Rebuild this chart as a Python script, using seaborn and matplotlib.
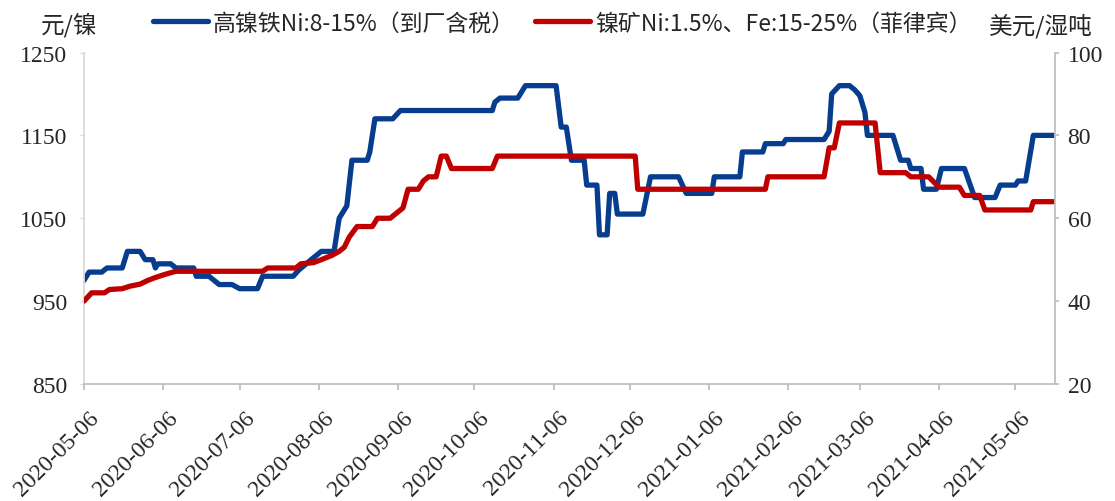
import pandas as pd
import matplotlib.pyplot as plt
import seaborn as sns
from matplotlib.lines import Line2D
from matplotlib.transforms import ScaledTranslation

# 高镍铁 Ni:8-15%（到厂含税）, 元/镍, left axis
nfe_dates = ['2020-05-06', '2020-05-08', '2020-05-13', '2020-05-15', '2020-05-21', '2020-05-23',
             '2020-05-28', '2020-05-30', '2020-06-02', '2020-06-03', '2020-06-04', '2020-06-09',
             '2020-06-11', '2020-06-18', '2020-06-19', '2020-06-24', '2020-06-28', '2020-07-03',
             '2020-07-06', '2020-07-13', '2020-07-15', '2020-07-27', '2020-07-29', '2020-08-03',
             '2020-08-07', '2020-08-12', '2020-08-14', '2020-08-17', '2020-08-19', '2020-08-25',
             '2020-08-26', '2020-08-28', '2020-09-04', '2020-09-07', '2020-10-13', '2020-10-14',
             '2020-10-16', '2020-10-23', '2020-10-26', '2020-11-07', '2020-11-09', '2020-11-11',
             '2020-11-13', '2020-11-18', '2020-11-19', '2020-11-23', '2020-11-24', '2020-11-27',
             '2020-11-28', '2020-11-30', '2020-12-01', '2020-12-11', '2020-12-14', '2020-12-25',
             '2020-12-28', '2021-01-07', '2021-01-08', '2021-01-18', '2021-01-19', '2021-01-27',
             '2021-01-28', '2021-02-04', '2021-02-05', '2021-02-20', '2021-02-22', '2021-02-23',
             '2021-02-26', '2021-03-02', '2021-03-04', '2021-03-06', '2021-03-08', '2021-03-09',
             '2021-03-19', '2021-03-22', '2021-03-25', '2021-03-26', '2021-03-30', '2021-03-31',
             '2021-04-05', '2021-04-07', '2021-04-16', '2021-04-20', '2021-04-28', '2021-04-30',
             '2021-05-06', '2021-05-07', '2021-05-10', '2021-05-13', '2021-05-21']
nfe_price = [975, 985, 985, 990, 990, 1010,
             1010, 1000, 1000, 990, 995, 995,
             990, 990, 980, 980, 970, 970,
             965, 965, 980, 980, 987, 1000,
             1010, 1010, 1050, 1065, 1120, 1120,
             1130, 1170, 1170, 1180, 1180, 1190,
             1195, 1195, 1210, 1210, 1160, 1160,
             1120, 1120, 1090, 1090, 1030, 1030,
             1080, 1080, 1055, 1055, 1100, 1100,
             1080, 1080, 1100, 1100, 1130, 1130,
             1140, 1140, 1145, 1145, 1155, 1200,
             1210, 1210, 1205, 1198, 1178, 1150,
             1150, 1120, 1120, 1110, 1110, 1085,
             1085, 1110, 1110, 1075, 1075, 1090,
             1090, 1095, 1095, 1150, 1150]

# 镍矿Ni:1.5%、Fe:15-25%（菲律宾）, 美元/湿吨, right axis
ore_dates = ['2020-05-06', '2020-05-09', '2020-05-14', '2020-05-16', '2020-05-21', '2020-05-24',
             '2020-05-28', '2020-05-31', '2020-06-03', '2020-06-07', '2020-06-11', '2020-07-15',
             '2020-07-17', '2020-07-28', '2020-07-30', '2020-08-04', '2020-08-07', '2020-08-11',
             '2020-08-14', '2020-08-16', '2020-08-18', '2020-08-21', '2020-08-27', '2020-08-29',
             '2020-09-03', '2020-09-05', '2020-09-08', '2020-09-10', '2020-09-14', '2020-09-16',
             '2020-09-18', '2020-09-21', '2020-09-23', '2020-09-25', '2020-09-27', '2020-10-13',
             '2020-10-15', '2020-12-08', '2020-12-09', '2021-01-28', '2021-01-29', '2021-02-20',
             '2021-02-22', '2021-02-24', '2021-02-26', '2021-03-12', '2021-03-14', '2021-03-24',
             '2021-03-26', '2021-04-02', '2021-04-06', '2021-04-14', '2021-04-16', '2021-04-22',
             '2021-04-24', '2021-05-12', '2021-05-13', '2021-05-21']
ore_price = [40, 42, 42, 42.8, 43, 43.6,
             44.1, 45, 45.7, 46.5, 47.2, 47.2,
             48, 48, 49, 49.3, 50, 51,
             52, 53, 55.5, 58, 58, 60,
             60, 61, 62.5, 67, 67, 69,
             70, 70, 75, 75, 72, 72,
             75, 75, 67, 67, 70, 70,
             77, 77, 83, 83, 71, 71,
             70, 70, 67.5, 67.5, 65.5, 65.5,
             62, 62, 64, 64]

tick_labels = ['2020-05-06', '2020-06-06', '2020-07-06', '2020-08-06', '2020-09-06', '2020-10-06',
               '2020-11-06', '2020-12-06', '2021-01-06', '2021-02-06', '2021-03-06', '2021-04-06',
               '2021-05-06']
left_ticks = [850, 950, 1050, 1150, 1250]
right_ticks = [20, 40, 60, 80, 100]
labels = ['高镍铁Ni:8-15%（到厂含税）', '镍矿Ni:1.5%、Fe:15-25%（菲律宾）']

blue = '#073D8F'
red = '#C00000'
cjk = ['Noto Sans CJK SC', 'DejaVu Sans']

sns.set_style('ticks')
plt.rcParams['font.family'] = ['Liberation Serif', 'Noto Sans CJK SC']
plt.rcParams['lines.solid_joinstyle'] = 'round'

df_nfe = pd.DataFrame({'date': pd.to_datetime(nfe_dates), 'price': nfe_price})
df_ore = pd.DataFrame({'date': pd.to_datetime(ore_dates), 'price': ore_price})

fig = plt.figure(figsize=(11.15, 5.02), dpi=100)
ax = fig.add_axes([0.0753, 0.2331, 0.8709, 0.6603])
ax2 = ax.twinx()

sns.lineplot(data=df_nfe, x='date', y='price', ax=ax, color=blue, linewidth=3.8, sort=False)
sns.lineplot(data=df_ore, x='date', y='price', ax=ax2, color=red, linewidth=3.8, sort=False)

ax.set_xlim(pd.Timestamp('2020-05-06'), pd.Timestamp('2021-05-21 12:00'))
ax.set_ylim(850, 1250)
ax2.set_ylim(20, 100)
ax.set_yticks(left_ticks)
ax2.set_yticks(right_ticks)
ax.set_xticks(pd.to_datetime(tick_labels))
ax.set_xticklabels(tick_labels, rotation=45, ha='right', va='top', rotation_mode='anchor')
for a in (ax, ax2):
    a.set_xlabel('')
    a.set_ylabel('')

# spines
ax.spines['top'].set_visible(False)
ax.spines['right'].set_visible(False)
ax.spines['left'].set_color('#D9D9D9')
ax.spines['bottom'].set_color('#BFBFBF')
for s in ('top', 'left', 'bottom'):
    ax2.spines[s].set_visible(False)
ax2.spines['right'].set_color('#BFBFBF')
for a in (ax, ax2):
    for s in a.spines.values():
        s.set_linewidth(1.3)

ax.tick_params(axis='y', length=3, color='#D9D9D9', pad=9, labelsize=17)
ax.tick_params(axis='x', length=4.5, width=1.3, color='#BFBFBF', pad=4, labelsize=17)
ax2.tick_params(axis='y', length=3, width=1.3, color='#BFBFBF', pad=6, labelsize=17)

# nudge rotated date labels down like the original (after tick_params)
fig.canvas.draw()
shift = ScaledTranslation(3 / 72, -8 / 72, fig.dpi_scale_trans)
for lbl in ax.get_xticklabels():
    lbl.set_transform(lbl.get_transform() + shift)

handles = [Line2D([], [], color=blue, lw=3.8), Line2D([], [], color=red, lw=3.8)]
fig.legend(handles, labels, loc='center left', bbox_to_anchor=(153 / 1115, 1 - 24 / 502),
           ncol=2, frameon=False, prop={'family': cjk, 'size': 16.5},
           handlelength=2.4, handletextpad=0.2, columnspacing=0.9,
           borderpad=0, borderaxespad=0)

fig.text(69 / 1115, 1 - 25 / 502, '元/镍', ha='center', va='center', family=cjk, size=17)
fig.text(1041 / 1115, 1 - 26 / 502, '美元/湿吨', ha='center', va='center', family=cjk, size=17)

plt.savefig('out.png', dpi=100)
